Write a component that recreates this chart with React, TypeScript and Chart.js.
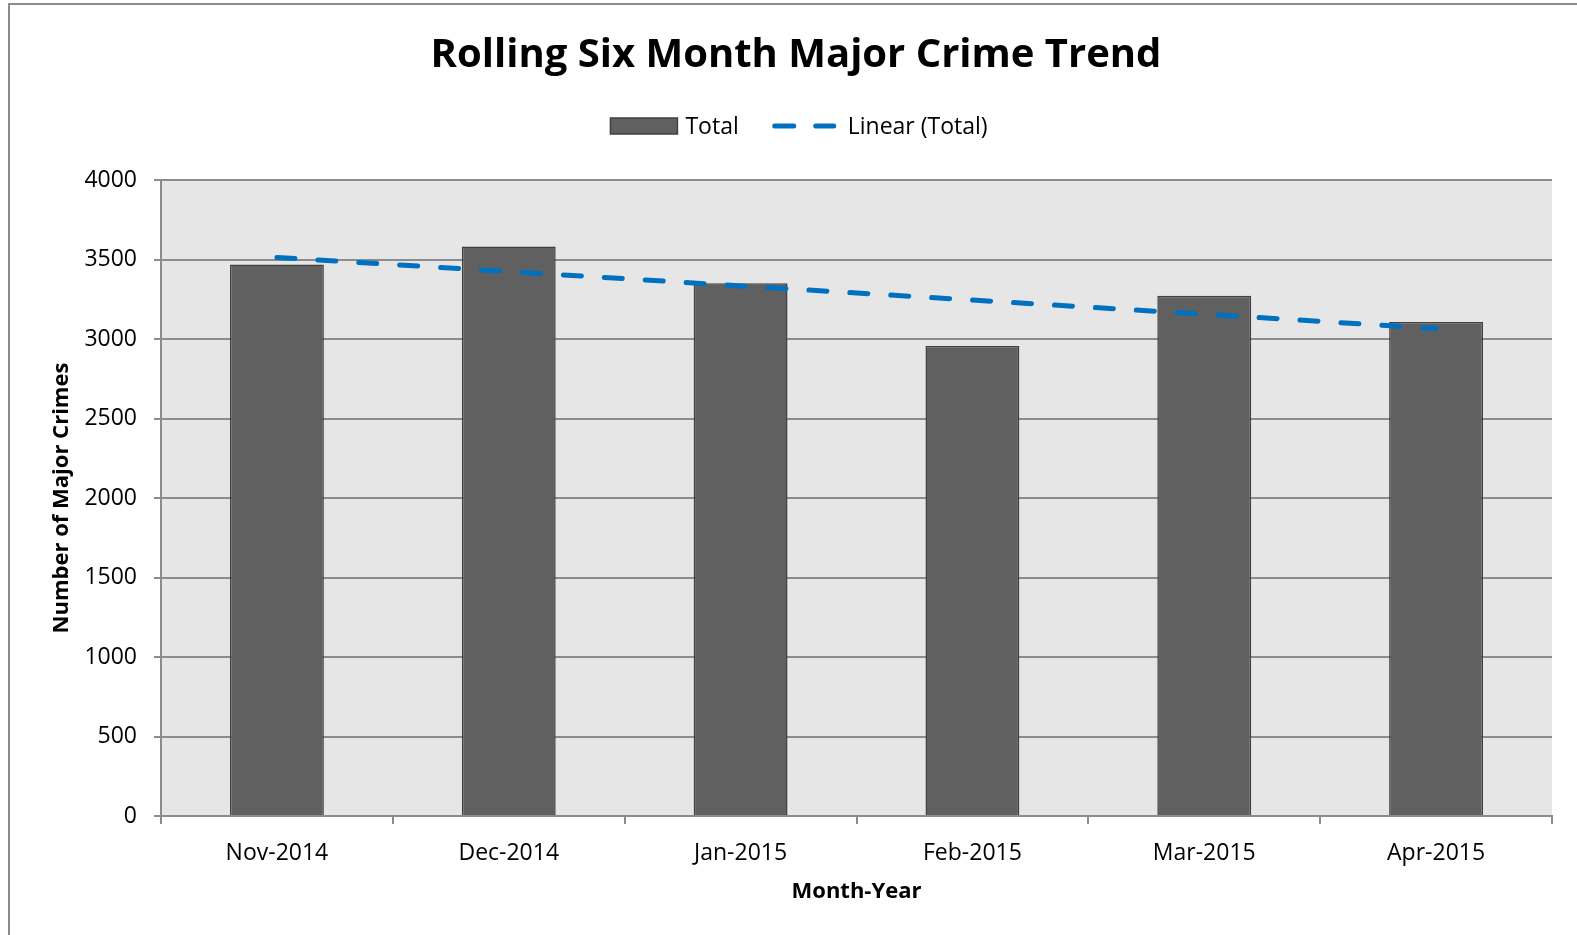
import React, { useEffect, useRef } from "react";
import { Chart, registerables } from "chart.js";

Chart.register(...registerables);

const categories = ["Nov-2014", "Dec-2014", "Jan-2015", "Feb-2015", "Mar-2015", "Apr-2015"];
const totalValues = [3468, 3582, 3350, 2956, 3272, 3107];
const trendValues = [3513, 3424, 3334, 3245, 3156, 3066];
const yTicks = [0, 500, 1000, 1500, 2000, 2500, 3000, 3500, 4000];

const FONT = "'Open Sans', 'DejaVu Sans', sans-serif";
const BAR_FILL = "#606060";
const BAR_EDGE = "#404040";
const TREND = "#0070c0";
const GRID = "#8c8c8c";

const decorPlugin = {
  id: "decor",
  beforeDraw(chart: any) {
    const { ctx, chartArea } = chart;
    ctx.save();
    ctx.fillStyle = "#ffffff";
    ctx.fillRect(0, 0, chart.width, chart.height);
    ctx.fillStyle = "#e6e6e6";
    ctx.fillRect(chartArea.left, chartArea.top, chartArea.right - chartArea.left, chartArea.bottom - chartArea.top);
    ctx.restore();
  },
  afterDraw(chart: any) {
    const { ctx } = chart;
    ctx.save();
    // outer frame
    ctx.strokeStyle = "#8c8c8c";
    ctx.lineWidth = 2;
    ctx.strokeRect(9, 4, chart.width + 20, chart.height + 20);

    // legend
    ctx.font = `23px ${FONT}`;
    ctx.textBaseline = "middle";
    ctx.fillStyle = "#000";
    const t1 = "Total";
    const t2 = "Linear (Total)";
    const w1 = ctx.measureText(t1).width;
    const w2 = ctx.measureText(t2).width;
    const boxW = 67, g1 = 8, g2 = 33, lineW = 62, g3 = 14;
    const total = boxW + g1 + w1 + g2 + lineW + g3 + w2;
    let x = 799 - total / 2;
    const y = 126;
    ctx.fillStyle = BAR_FILL;
    ctx.fillRect(x, y - 8, boxW, 16);
    ctx.strokeStyle = BAR_EDGE;
    ctx.lineWidth = 1.5;
    ctx.strokeRect(x, y - 8, boxW, 16);
    x += boxW + g1;
    ctx.fillStyle = "#000";
    ctx.fillText(t1, x, y + 1);
    x += w1 + g2;
    ctx.strokeStyle = TREND;
    ctx.lineWidth = 5;
    ctx.lineCap = "round";
    ctx.setLineDash([19, 22]);
    ctx.beginPath();
    ctx.moveTo(x + 3, y);
    ctx.lineTo(x + lineW, y);
    ctx.stroke();
    ctx.setLineDash([]);
    x += lineW + g3;
    ctx.fillStyle = "#000";
    ctx.fillText(t2, x, y + 1);
    ctx.restore();
  },
};

export default function App() {
  const ref = useRef<HTMLCanvasElement | null>(null);
  useEffect(() => {
    if (!ref.current) return;
    const chart = new Chart(ref.current, {
      type: "bar",
      data: {
        labels: categories,
        datasets: [
          {
            type: "line",
            label: "Linear (Total)",
            data: trendValues,
            borderColor: TREND,
            borderWidth: 5,
            borderDash: [18, 23],
            borderCapStyle: "round",
            pointRadius: 0,
            fill: false,
            tension: 0,
            order: 0,
          } as any,
          {
            type: "bar",
            label: "Total",
            data: totalValues,
            backgroundColor: BAR_FILL,
            borderColor: BAR_EDGE,
            borderWidth: 1.5,
            categoryPercentage: 1,
            barPercentage: 0.405,
            order: 1,
          },
        ],
      },
      options: {
        animation: false,
        responsive: true,
        maintainAspectRatio: false,
        layout: { padding: { left: 40, right: 25, top: 0, bottom: 0 } },
        plugins: {
          legend: { display: false },
          tooltip: { enabled: false },
          title: {
            display: true,
            text: "Rolling Six Month Major Crime Trend",
            color: "#000",
            font: { family: FONT, size: 40, weight: "bold" },
            padding: { top: 32, bottom: 100 },
          },
        },
        scales: {
          x: {
            offset: true,
            afterFit: (s: any) => {
              s.height = 119;
            },
            grid: {
              offset: true,
              drawOnChartArea: false,
              drawTicks: true,
              tickLength: 8,
              color: GRID,
              lineWidth: 2,
            },
            border: { display: true, color: GRID, width: 2 },
            ticks: {
              color: "#000",
              font: { family: FONT, size: 23 },
              padding: 16,
              maxRotation: 0,
            },
            title: {
              display: true,
              text: "Month-Year",
              color: "#000",
              font: { family: FONT, size: 22, weight: "bold" },
              padding: { top: 0, bottom: 30 },
            },
          },
          y: {
            min: 0,
            max: 4000,
            afterFit: (s: any) => {
              s.width = 121;
            },
            afterBuildTicks: (s: any) => {
              s.ticks = yTicks.map((v) => ({ value: v }));
            },
            grid: {
              color: GRID,
              lineWidth: 2,
              tickLength: 7,
            },
            border: { display: true, color: GRID, width: 2 },
            ticks: {
              color: "#000",
              font: { family: FONT, size: 23 },
              padding: 17,
              callback: (v: any) => String(v),
            },
            title: {
              display: true,
              text: "Number of Major Crimes",
              color: "#000",
              font: { family: FONT, size: 22, weight: "bold" },
              padding: { top: 9, bottom: 0 },
            },
          },
        },
      },
      plugins: [decorPlugin],
    });
    return () => chart.destroy();
  }, []);
  return (
    <div style={{ position: "absolute", left: 0, top: 0, width: 1577, height: 935 }}>
      <canvas ref={ref} />
    </div>
  );
}
